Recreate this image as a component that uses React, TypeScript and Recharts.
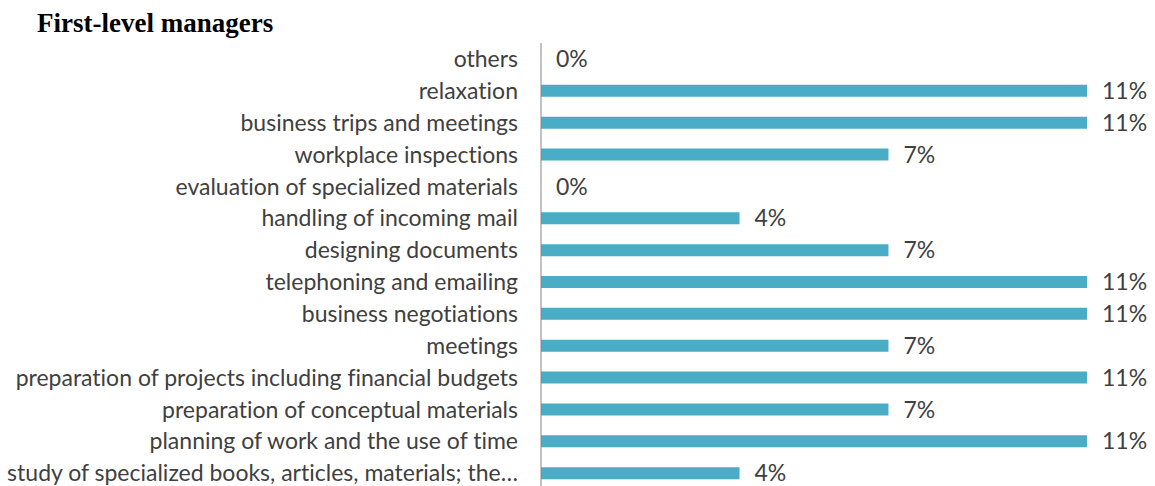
import { BarChart, Bar, XAxis, YAxis, LabelList } from 'recharts';

const categories = [
  'others',
  'relaxation',
  'business trips and meetings',
  'workplace inspections',
  'evaluation of specialized materials',
  'handling of incoming mail',
  'designing documents',
  'telephoning and emailing',
  'business negotiations',
  'meetings',
  'preparation of projects including financial budgets',
  'preparation of conceptual materials',
  'planning of work and the use of time',
  'study of specialized books, articles, materials; the…',
];

const shares = [0, 11, 11, 7, 0, 4, 7, 11, 11, 7, 11, 7, 11, 4];

const data = categories.map((name, i) => ({ name, value: shares[i] }));

const labelFont = 'Lato, "Open Sans", sans-serif';
const textColor = '#404040';

export default function App() {
  return (
    <div
      style={{
        position: 'absolute',
        left: 0,
        top: 0,
        width: 1155,
        height: 486,
        overflow: 'hidden',
        background: '#fff',
        fontVariantLigatures: 'none',
      }}
    >
      <div
        style={{
          position: 'absolute',
          left: 37,
          top: 8,
          fontFamily: '"Liberation Serif", "Times New Roman", serif',
          fontWeight: 'bold',
          fontSize: 27,
          color: '#000',
          whiteSpace: 'nowrap',
        }}
      >
        First-level managers
      </div>
      <BarChart
        width={1155}
        height={489}
        data={data}
        layout="vertical"
        margin={{ top: 43, right: 68, bottom: 0, left: 0 }}
      >
        <XAxis type="number" domain={[0, 11]} hide />
        <YAxis
          type="category"
          dataKey="name"
          width={541}
          interval={0}
          tickLine={false}
          tickSize={0}
          tickMargin={23}
          axisLine={{ stroke: '#868686', strokeWidth: 1 }}
          tick={{ fill: textColor, fontSize: 23, fontFamily: labelFont }}
        />
        <Bar dataKey="value" fill="#4BACC6" barSize={12} minPointSize={0.01} isAnimationActive={false}>
          <LabelList
            dataKey="value"
            position="right"
            offset={15}
            formatter={(v: any) => `${v}%`}
            style={{ fill: textColor, fontSize: 23, fontFamily: labelFont }}
          />
        </Bar>
      </BarChart>
    </div>
  );
}
